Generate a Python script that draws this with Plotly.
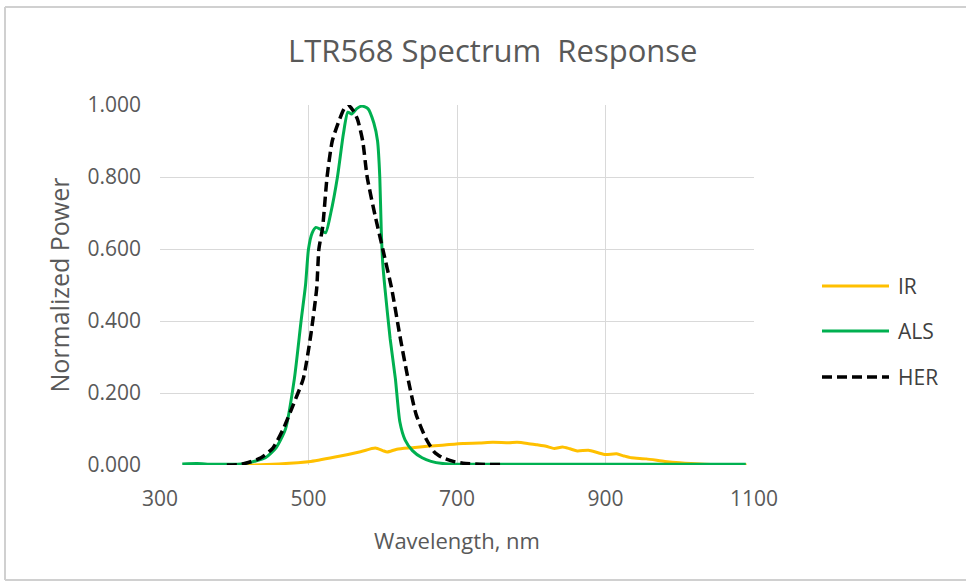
import plotly.graph_objects as go

# ---- data ----
als_wl = [330, 350, 370, 390, 410, 430, 442, 456, 469, 481, 490, 496, 500, 505, 510, 516, 523,
          530, 539, 547, 553, 558, 565, 572, 580, 588, 593, 596, 598, 600, 603, 610, 617, 623,
          630, 640, 653, 665, 681, 700, 800, 900, 1000, 1089]
als_val = [0.003, 0.004, 0.002, 0.002, 0.003, 0.012, 0.020, 0.047, 0.100, 0.240, 0.400, 0.500,
           0.600, 0.645, 0.660, 0.655, 0.645, 0.700, 0.800, 0.920, 0.980, 0.975, 0.990, 0.997,
           0.990, 0.950, 0.900, 0.800, 0.650, 0.560, 0.490, 0.350, 0.240, 0.120, 0.070, 0.040,
           0.020, 0.010, 0.004, 0.002, 0.002, 0.002, 0.002, 0.002]

her_wl = [390, 410, 436, 452, 466, 480, 493, 503, 511, 514, 519, 525, 532, 540, 548, 553, 560,
          566, 573, 579, 590, 600, 612, 623, 634, 645, 659, 670, 681, 695, 708, 730, 760]
her_val = [0.000, 0.002, 0.020, 0.047, 0.100, 0.170, 0.240, 0.360, 0.490, 0.600, 0.660, 0.800,
           0.900, 0.950, 0.990, 1.000, 0.985, 0.960, 0.900, 0.800, 0.690, 0.600, 0.490, 0.360,
           0.240, 0.140, 0.070, 0.035, 0.020, 0.010, 0.005, 0.002, 0.001]

ir_wl = [400, 423, 460, 503, 543, 570, 590, 600, 606, 619, 640, 660, 680, 708, 730, 748, 770,
         781, 795, 808, 820, 831, 842, 852, 862, 877, 890, 900, 915, 925, 935, 955, 980, 1000,
         1015, 1050, 1090]
ir_val = [0.000, 0.000, 0.003, 0.010, 0.025, 0.037, 0.047, 0.040, 0.036, 0.044, 0.048, 0.052,
          0.055, 0.060, 0.061, 0.063, 0.062, 0.063, 0.060, 0.056, 0.052, 0.046, 0.050, 0.045,
          0.039, 0.041, 0.034, 0.029, 0.031, 0.025, 0.020, 0.017, 0.010, 0.006, 0.004, 0.001,
          0.000]

series_names = ["IR", "ALS", "HER"]
series_colors = ["#FFC000", "#00B050", "#000000"]
x_ticks = [300, 500, 700, 900, 1100]
y_ticks = [0.0, 0.2, 0.4, 0.6, 0.8, 1.0]

FONT = "Open Sans"
GREY = "#595959"

fig = go.Figure()
fig.add_trace(go.Scatter(x=ir_wl, y=ir_val, name="IR", mode="lines",
                         line=dict(color=series_colors[0], width=3, shape="spline", smoothing=0.6)))
fig.add_trace(go.Scatter(x=als_wl, y=als_val, name="ALS", mode="lines",
                         line=dict(color=series_colors[1], width=3, shape="spline", smoothing=0.6)))
fig.add_trace(go.Scatter(x=her_wl, y=her_val, name="HER", mode="lines",
                         line=dict(color=series_colors[2], width=3.5, dash="10px,5px",
                                   shape="spline", smoothing=0.6)))

W, H = 966, 584
L, T = 160, 105
pw, ph = 594, 360
R, B = W - L - pw, H - T - ph

def px_x(p):  # screen pixel -> paper x
    return (p - L) / pw

def px_y(p):  # screen pixel -> paper y
    return (T + ph - p) / ph

fig.update_layout(
    width=W, height=H,
    margin=dict(l=L, r=R, t=T, b=B),
    paper_bgcolor="white", plot_bgcolor="white",
    showlegend=False,
    font=dict(family=FONT, color=GREY),
)
fig.update_xaxes(range=[300, 1100], tickvals=x_ticks, showgrid=True, gridcolor="#d9d9d9",
                 gridwidth=1, zeroline=False, showline=False,
                 tickfont=dict(size=21, color=GREY), ticklabelstandoff=19,
                 title=dict(text="Wavelength, nm", font=dict(size=22, color=GREY), standoff=22))
fig.update_yaxes(range=[0, 1.0], tickvals=y_ticks, tickformat=".3f", showgrid=True,
                 gridcolor="#d9d9d9", gridwidth=1, zeroline=False, showline=False,
                 tickfont=dict(size=21, color=GREY), ticklabelstandoff=18,
                 title=dict(text="Normalized Power", font=dict(size=25, color=GREY), standoff=10))

# title
fig.add_annotation(text="LTR568 Spectrum  Response", xref="paper", yref="paper",
                   x=px_x(493), y=px_y(50), showarrow=False, xanchor="center", yanchor="middle",
                   font=dict(size=31, color=GREY, family=FONT))

# manual legend
leg_y = [286, 331, 377]
for name, col, yy in zip(series_names, series_colors, leg_y):
    fig.add_shape(type="line", xref="paper", yref="paper",
                  x0=px_x(822), x1=px_x(889), y0=px_y(yy), y1=px_y(yy),
                  line=dict(color=col, width=3.5 if name == "HER" else 3,
                            dash="10px,5px" if name == "HER" else "solid"))
    fig.add_annotation(text=name, xref="paper", yref="paper", x=px_x(896), y=px_y(yy),
                       showarrow=False, xanchor="left", yanchor="middle",
                       font=dict(size=21, color="#404040", family=FONT))

# chart frame (top, left, bottom; right side cut off in the reference)
frame = dict(color="#d0d0d0", width=2)
fig.add_shape(type="line", xref="paper", yref="paper", x0=px_x(5), x1=px_x(1100),
              y0=px_y(7), y1=px_y(7), line=frame, layer="below")
fig.add_shape(type="line", xref="paper", yref="paper", x0=px_x(5), x1=px_x(1100),
              y0=px_y(580), y1=px_y(580), line=frame, layer="below")
fig.add_shape(type="line", xref="paper", yref="paper", x0=px_x(5), x1=px_x(5),
              y0=px_y(7), y1=px_y(580), line=frame, layer="below")

fig.write_html("out.html", config={"displayModeBar": False},
               post_script="document.body.style.margin='0px';")
